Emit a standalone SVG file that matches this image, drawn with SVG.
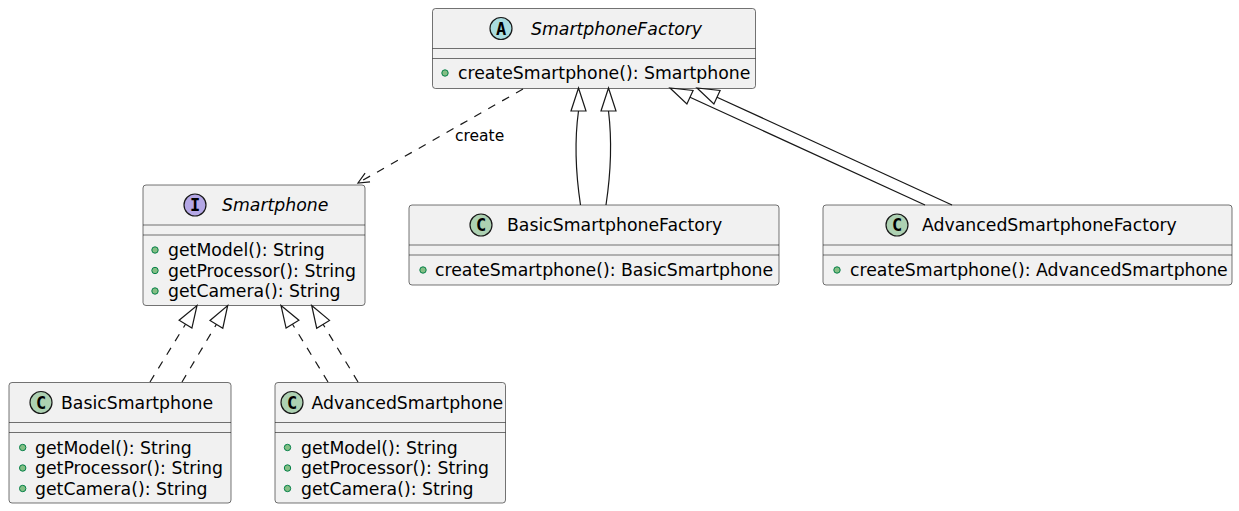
<svg xmlns="http://www.w3.org/2000/svg" width="1239" height="511" viewBox="0 0 1239 511">
<style>
.box{fill:#F1F1F1;stroke:#181818;stroke-width:0.6}
.sep{stroke:#181818;stroke-width:0.6}
.t{font-family:"DejaVu Sans",sans-serif;font-size:17.3px;fill:#000}
.i{font-style:italic}
.lbl{font-family:"DejaVu Sans",sans-serif;font-size:15.5px;fill:#000}
.ic{stroke:#181818;stroke-width:1.2}
.icA{fill:#A9DCDF}.icI{fill:#B4A7E5}.icC{fill:#ADD1B2}
.il{font-family:"DejaVu Sans Mono",monospace;font-weight:bold;font-size:17px;fill:#000;text-anchor:middle}
.dot{fill:#84BE84;stroke:#038048;stroke-width:1}
.e{fill:none;stroke:#181818;stroke-width:1.2}
.d{stroke-dasharray:8,8}
.tri{fill:none;stroke:#181818;stroke-width:1.2}
</style>
<rect width="1239" height="511" fill="#FFFFFF"/>
<g id="SmartphoneFactory">
<rect class="box" x="432.5" y="8.5" width="323" height="80" rx="3"/>
<line class="sep" x1="432.5" y1="48.5" x2="755.5" y2="48.5"/>
<line class="sep" x1="432.5" y1="58.5" x2="755.5" y2="58.5"/>
<circle class="ic icA" cx="501" cy="28.5" r="11"/>
<text class="il" x="501" y="34.5">A</text>
<text class="t i" x="531" y="34.5">SmartphoneFactory</text>
<circle class="dot" cx="445" cy="73" r="3.2"/>
<text class="t" x="458" y="79">createSmartphone(): Smartphone</text>
</g>
<g id="Smartphone">
<rect class="box" x="143" y="185" width="222" height="120.5" rx="3"/>
<line class="sep" x1="143" y1="225" x2="365" y2="225"/>
<line class="sep" x1="143" y1="235" x2="365" y2="235"/>
<circle class="ic icI" cx="195" cy="205" r="11"/>
<text class="il" x="195" y="211">I</text>
<text class="t i" x="222" y="211">Smartphone</text>
<circle class="dot" cx="155" cy="250" r="3.2"/>
<text class="t" x="168" y="256">getModel(): String</text>
<circle class="dot" cx="155" cy="270.5" r="3.2"/>
<text class="t" x="168" y="276.5">getProcessor(): String</text>
<circle class="dot" cx="155" cy="291" r="3.2"/>
<text class="t" x="168" y="297">getCamera(): String</text>
</g>
<g id="BasicSmartphoneFactory">
<rect class="box" x="409" y="205" width="370" height="80" rx="3"/>
<line class="sep" x1="409" y1="245" x2="779" y2="245"/>
<line class="sep" x1="409" y1="255" x2="779" y2="255"/>
<circle class="ic icC" cx="481" cy="225" r="11"/>
<text class="il" x="481" y="231">C</text>
<text class="t" x="507" y="231">BasicSmartphoneFactory</text>
<circle class="dot" cx="423" cy="270" r="3.2"/>
<text class="t" x="435" y="276">createSmartphone(): BasicSmartphone</text>
</g>
<g id="AdvancedSmartphoneFactory">
<rect class="box" x="823" y="205" width="409" height="80" rx="3"/>
<line class="sep" x1="823" y1="245" x2="1232" y2="245"/>
<line class="sep" x1="823" y1="255" x2="1232" y2="255"/>
<circle class="ic icC" cx="897" cy="225" r="11"/>
<text class="il" x="897" y="231">C</text>
<text class="t" x="922" y="231">AdvancedSmartphoneFactory</text>
<circle class="dot" cx="837" cy="270" r="3.2"/>
<text class="t" x="850" y="276">createSmartphone(): AdvancedSmartphone</text>
</g>
<g id="BasicSmartphone">
<rect class="box" x="9" y="382.5" width="222" height="120.5" rx="3"/>
<line class="sep" x1="9" y1="422.5" x2="231" y2="422.5"/>
<line class="sep" x1="9" y1="432.5" x2="231" y2="432.5"/>
<circle class="ic icC" cx="41" cy="402.5" r="11"/>
<text class="il" x="41" y="408.5">C</text>
<text class="t" x="61" y="408.5">BasicSmartphone</text>
<circle class="dot" cx="22.7" cy="447.5" r="3.2"/>
<text class="t" x="35" y="453.5">getModel(): String</text>
<circle class="dot" cx="22.7" cy="468" r="3.2"/>
<text class="t" x="35" y="474">getProcessor(): String</text>
<circle class="dot" cx="22.7" cy="488.5" r="3.2"/>
<text class="t" x="35" y="494.5">getCamera(): String</text>
</g>
<g id="AdvancedSmartphone">
<rect class="box" x="275" y="382.5" width="230.5" height="120.5" rx="3"/>
<line class="sep" x1="275" y1="422.5" x2="505.5" y2="422.5"/>
<line class="sep" x1="275" y1="432.5" x2="505.5" y2="432.5"/>
<circle class="ic icC" cx="292" cy="402.5" r="11"/>
<text class="il" x="292" y="408.5">C</text>
<text class="t" x="311.5" y="408.5">AdvancedSmartphone</text>
<circle class="dot" cx="287.5" cy="447.5" r="3.2"/>
<text class="t" x="301" y="453.5">getModel(): String</text>
<circle class="dot" cx="287.5" cy="468" r="3.2"/>
<text class="t" x="301" y="474">getProcessor(): String</text>
<circle class="dot" cx="287.5" cy="488.5" r="3.2"/>
<text class="t" x="301" y="494.5">getCamera(): String</text>
</g>
<g id="connectors">
<path class="e d" d="M523,89 L358,183"/>
<path class="e" d="M370,181.9 L358,183 L365.1,173.2"/>
<text class="lbl" x="455" y="141">create</text>
<path class="e" d="M580.5,205 C576,175 574.5,140 578.5,111"/>
<polygon class="tri" points="578.5,88 571,111 586,111"/>
<path class="e" d="M606,205 C610.5,175 612,140 608.5,111"/>
<polygon class="tri" points="608.5,88 601,111 616,111"/>
<path class="e" d="M925,205 L690,97.2"/>
<polygon class="tri" points="670,88 686.9,104 693.1,90.4"/>
<path class="e" d="M952,205 L717,97.2"/>
<polygon class="tri" points="697,88 713.9,104 720.1,90.4"/>
<path class="e d" d="M150,382 L185.5,324.2"/>
<polygon class="tri" points="197,305.5 191.9,328.1 179.1,320.3"/>
<path class="e d" d="M182,382 L216.4,324.4"/>
<polygon class="tri" points="227.7,305.5 222.8,328.2 210,320.5"/>
<path class="e d" d="M328,382 L292.5,324.2"/>
<polygon class="tri" points="281,305.5 298.9,320.3 286.1,328.1"/>
<path class="e d" d="M358,382 L323.1,324.3"/>
<polygon class="tri" points="311.7,305.5 329.5,320.4 316.7,328.2"/>
</g>
</svg>
